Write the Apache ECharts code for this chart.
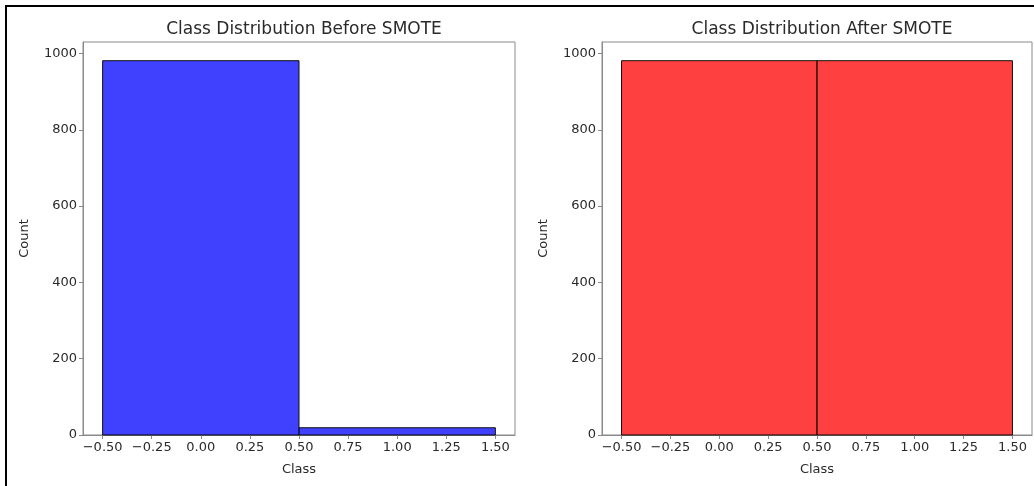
<!DOCTYPE html>
<html>
<head>
<meta charset="utf-8">
<script src="https://cdn.jsdelivr.net/npm/echarts@6/dist/echarts.min.js"></script>
<style>
  html, body { margin: 0; padding: 0; background: #fff; }
  #main { width: 1034px; height: 486px; }
</style>
</head>
<body>
<div id="main"></div>
<script>
// histogram bins (class -0.5..0.5 and 0.5..1.5)
const binEdges = [-0.5, 0.5, 1.5]
const beforeCounts = [981, 19]
const afterCounts = [981, 981]
const xTicks = [-0.5, -0.25, 0, 0.25, 0.5, 0.75, 1, 1.25, 1.5]
const yTicks = [0, 200, 400, 600, 800, 1000]
const titles = ['Class Distribution Before SMOTE', 'Class Distribution After SMOTE']

const FONT = 'DejaVu Sans'
const TEXT = '#2a2a2a'
const SPINE = '#8a8a8a'

function bins(counts) {
  return counts.map((c, i) => [binEdges[i], binEdges[i + 1], c])
}

function fmtX(v) {
  const s = Math.abs(v).toFixed(2)
  return v < 0 ? '\u2212' + s : s
}

function xAxis(idx) {
  return {
    gridIndex: idx,
    type: 'value',
    min: -0.6,
    max: 1.6,
    name: 'Class',
    nameLocation: 'middle',
    nameGap: 28,
    nameTextStyle: { fontFamily: FONT, fontSize: 13, color: TEXT },
    axisLine: { show: true, onZero: false, lineStyle: { color: SPINE, width: 1 } },
    axisTick: { show: true, length: 4, lineStyle: { color: SPINE }, customValues: xTicks },
    axisLabel: { fontFamily: FONT, fontSize: 13, color: TEXT, margin: 6, formatter: fmtX, customValues: xTicks },
    splitLine: { show: false }
  }
}

function yAxis(idx) {
  return {
    gridIndex: idx,
    type: 'value',
    min: 0,
    max: 1030,
    name: 'Count',
    nameLocation: 'middle',
    nameGap: 52,
    nameTextStyle: { fontFamily: FONT, fontSize: 13, color: TEXT },
    axisLine: { show: true, onZero: false, lineStyle: { color: SPINE, width: 1 } },
    axisTick: { show: true, length: 4, lineStyle: { color: SPINE }, customValues: yTicks },
    axisLabel: { fontFamily: FONT, fontSize: 13, color: TEXT, margin: 6,
      formatter: v => String(v), customValues: yTicks },
    splitLine: { show: false }
  }
}

function histSeries(idx, counts, fill) {
  return {
    type: 'custom',
    xAxisIndex: idx,
    yAxisIndex: idx,
    data: bins(counts),
    encode: { x: [0, 1], y: 2 },
    renderItem: function (params, api) {
      const p0 = api.coord([api.value(0), api.value(2)])
      const p1 = api.coord([api.value(1), 0])
      return {
        type: 'rect',
        shape: { x: p0[0], y: p0[1], width: p1[0] - p0[0], height: p1[1] - p0[1] },
        style: { fill: fill, stroke: '#111', lineWidth: 1 }
      }
    }
  }
}

const chart = echarts.init(document.getElementById('main'))
chart.setOption({
  animation: false,
  backgroundColor: '#fff',
  title: [
    { text: titles[0], left: 299, top: 16, textAlign: 'center',
      textStyle: { fontFamily: FONT, fontSize: 17, fontWeight: 'normal', color: TEXT } },
    { text: titles[1], left: 817, top: 16, textAlign: 'center',
      textStyle: { fontFamily: FONT, fontSize: 17, fontWeight: 'normal', color: TEXT } }
  ],
  grid: [
    { left: 83, right: 519, top: 42, bottom: 51, show: true, borderColor: SPINE, borderWidth: 1 },
    { left: 602, right: 2, top: 42, bottom: 51, show: true, borderColor: SPINE, borderWidth: 1 }
  ],
  xAxis: [xAxis(0), xAxis(1)],
  yAxis: [yAxis(0), yAxis(1)],
  series: [
    histSeries(0, beforeCounts, 'rgba(0,0,255,0.75)'),
    histSeries(1, afterCounts, 'rgba(255,0,0,0.75)')
  ],
  graphic: [
    { type: 'rect', shape: { x: 6, y: 6, width: 1100, height: 600 },
      style: { fill: 'none', stroke: '#000', lineWidth: 2 }, silent: true }
  ]
})
</script>
</body>
</html>
